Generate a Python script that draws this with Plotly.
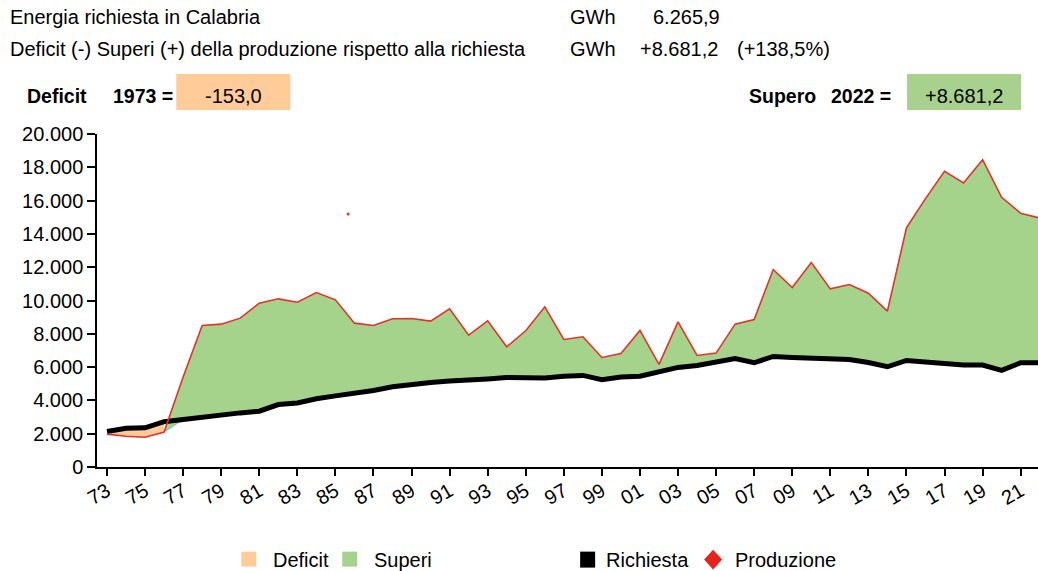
import plotly.graph_objects as go

years = list(range(1973, 2023))
richiesta = [2130, 2330, 2350, 2720, 2850, 3000, 3150, 3250, 3350, 3750,
             3850, 4100, 4270, 4400, 4600, 4820, 4980, 5080, 5160, 5260,
             5290, 5370, 5330, 5350, 5450, 5500, 5240, 5400, 5450, 5700,
             5980, 6100, 6320, 6520, 6260, 6640, 6580, 6540, 6540, 6460,
             6280, 6020, 6400, 6300, 6260, 6120, 6120, 5800, 6260, 6265.9]
produzione = [1977, 1850, 1790, 2100, 5400, 8500, 8580, 8940, 9840, 10100,
              9900, 10480, 10040, 8640, 8500, 8900, 8920, 8760, 9500, 7920,
              8780, 7220, 8180, 9620, 7660, 7820, 6580, 6820, 8200, 6160,
              8720, 6700, 6840, 8580, 8860, 11860, 10780, 12280, 10700, 10960,
              10440, 9360, 14360, 16120, 17760, 17060, 18460, 16200, 15240, 14947.1]
stray_x = [1985.67]
stray_y = [15200]
tick_years = years[::2]
tick_labels = [f"{y % 100:02d}" for y in tick_years]

FONT = "Liberation Sans, Arial, sans-serif"
ORANGE = "#FFCC99"
GREEN = "#A6D38B"
RED = "#E8302A"

# first year with surplus
k = next(i for i in range(len(years)) if produzione[i] >= richiesta[i])

fig = go.Figure()
# deficit band
fig.add_trace(go.Scatter(x=years[:k], y=produzione[:k], mode="lines",
                         line=dict(width=0), hoverinfo="skip", showlegend=False))
fig.add_trace(go.Scatter(x=years[:k], y=richiesta[:k], mode="lines",
                         line=dict(width=0), fill="tonexty", fillcolor=ORANGE,
                         hoverinfo="skip", showlegend=False))
# surplus band
base = [produzione[k - 1]] + richiesta[k:]
fig.add_trace(go.Scatter(x=years[k - 1:], y=base, mode="lines",
                         line=dict(width=1, color="#4FC3E8"), hoverinfo="skip", showlegend=False))
fig.add_trace(go.Scatter(x=years[k - 1:], y=produzione[k - 1:], mode="lines",
                         line=dict(width=0), fill="tonexty", fillcolor=GREEN,
                         hoverinfo="skip", showlegend=False))
# richiesta line
fig.add_trace(go.Scatter(x=years, y=richiesta, mode="lines",
                         line=dict(width=5, color="black"), showlegend=False))
# produzione line
fig.add_trace(go.Scatter(x=years, y=produzione, mode="lines",
                         line=dict(width=1.6, color=RED), showlegend=False))
fig.add_trace(go.Scatter(x=stray_x, y=stray_y, mode="markers",
                         marker=dict(size=3, color=RED), showlegend=False))

W, H = 1038, 571
L, R = 96.7, 1038
T, B = 134, 467.3


def px(x):
    return (x - L) / (R - L)


def py(y):
    return (B - y) / (B - T)


ann = []
shapes = []


def text(x, y, s, bold=False, anchor="left", size=20):
    ann.append(dict(x=px(x), y=py(y), xref="paper", yref="paper", text=(f"<b>{s}</b>" if bold else s),
                    showarrow=False, xanchor=anchor, yanchor="middle", xshift=0,
                    font=dict(family=FONT, size=size, color="black")))


text(8, 17, "Energia richiesta in Calabria")
text(8, 49, "Deficit (-) Superi (+) della produzione rispetto alla richiesta")
text(568, 17, "GWh")
text(651, 17, "6.265,9")
text(568, 49, "GWh")
text(638, 49, "+8.681,2")
text(735, 49, "(+138,5%)")
text(25, 96, "Deficit", bold=True, size=19.5)
text(111, 96, "1973 =", bold=True, size=19.5)
text(747, 96, "Supero", bold=True, size=19.5)
text(829, 96, "2022 =", bold=True, size=19.5)
shapes.append(dict(type="rect", xref="paper", yref="paper", x0=px(176), x1=px(290), y0=py(74), y1=py(110),
                   fillcolor=ORANGE, line=dict(width=0), layer="below"))
shapes.append(dict(type="rect", xref="paper", yref="paper", x0=px(907), x1=px(1021), y0=py(74), y1=py(110),
                   fillcolor="#A9D18E", line=dict(width=0), layer="below"))
text(233, 96, "-153,0", anchor="center")
text(964, 96, "+8.681,2", anchor="center")

# legend
LY = 560
shapes.append(dict(type="rect", xref="paper", yref="paper", x0=px(241), x1=px(256), y0=py(552), y1=py(567),
                   fillcolor=ORANGE, line=dict(width=0)))
text(271, LY, "Deficit")
shapes.append(dict(type="rect", xref="paper", yref="paper", x0=px(342), x1=px(357), y0=py(552), y1=py(567),
                   fillcolor=GREEN, line=dict(width=0)))
text(372, LY, "Superi")
shapes.append(dict(type="rect", xref="paper", yref="paper", x0=px(580), x1=px(595), y0=py(552), y1=py(568),
                   fillcolor="black", line=dict(width=0)))
text(604, LY, "Richiesta")
shapes.append(dict(type="path", xref="paper", yref="paper",
                   path=f"M {px(713)},{py(550)} L {px(722)},{py(560)} L {px(713)},{py(570)} L {px(704)},{py(560)} Z",
                   fillcolor="#E8221B", line=dict(width=0)))
text(733, LY, "Produzione")

x0 = 1973 - (106.7 - L) / 19.04
x1 = 2022 - (1039.7 - R) / 19.04

fig.update_layout(
    width=W, height=H,
    margin=dict(l=L, r=W - R, t=T, b=H - B, pad=0),
    paper_bgcolor="white", plot_bgcolor="white",
    separators=",.",
    font=dict(family=FONT, size=20, color="black"),
    annotations=ann, shapes=shapes,
    xaxis=dict(range=[x0, x1], tickmode="array", tickvals=tick_years, ticktext=tick_labels,
               tickangle=-30, ticks="outside", ticklen=7, tickwidth=1.5, tickcolor="black",
               ticklabelstandoff=-4,
               showline=True, linecolor="black", linewidth=1.5, showgrid=False, zeroline=False,
               tickfont=dict(family=FONT, size=20)),
    yaxis=dict(range=[0, 20000], tickvals=list(range(0, 20001, 2000)), tickformat=",d",
               ticks="outside", ticklen=8, tickwidth=1.5, tickcolor="black",
               showline=True, linecolor="black", linewidth=1.5, showgrid=False, zeroline=False,
               tickfont=dict(family=FONT, size=20)),
)

fig.write_html("out.html", config={"displayModeBar": False},
               post_script="document.body.style.margin='0px';")
